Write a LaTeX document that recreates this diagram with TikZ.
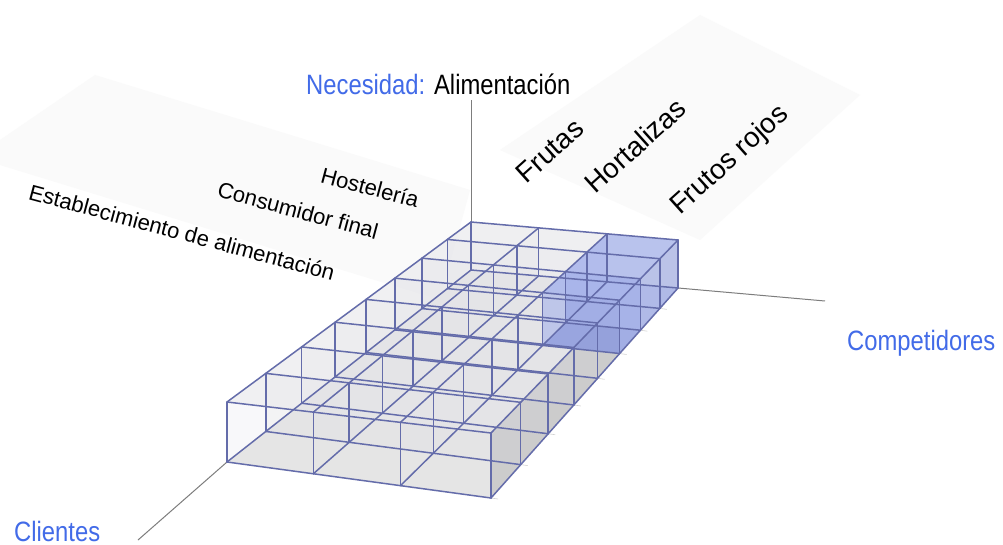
\documentclass[tikz,border=0pt]{standalone}
\usepackage{fontspec}
\setmainfont{Liberation Sans}
\newfontfamily\narrowfont[FakeStretch=0.85]{Liberation Sans}
\usetikzlibrary{calc}
\definecolor{edgec}{RGB}{100,108,170}
\definecolor{axisc}{RGB}{125,125,125}
\definecolor{labblue}{RGB}{66,107,232}
\definecolor{hiblue}{RGB}{172,184,236}
\definecolor{hidark}{RGB}{118,134,214}
\definecolor{boxgray}{RGB}{214,214,220}
\definecolor{panelc}{RGB}{250,250,250}
\begin{document}
\begin{tikzpicture}[x=1pt,y=-1pt,
  edge/.style={draw=edgec,line width=1.5pt,line join=round,line cap=round},
  axisline/.style={draw=axisc,line width=1pt},
  axlabel/.style={font=\narrowfont\fontsize{28}{30}\selectfont,inner sep=0pt},
  catlabel/.style={font=\fontsize{22}{24}\selectfont,inner sep=0pt,anchor=base,rotate=-15},
  prodlabel/.style={font=\fontsize{28}{30}\selectfont,inner sep=0pt,anchor=base,rotate=42}]
\useasboundingbox (0,0) rectangle (1003,545);
\fill[white] (0,0) rectangle (1003,545);
% faint label panels
\fill[panelc] (95,75) -- (470,190) -- (440,300) -- (0,165) -- (0,140) -- cycle;
\fill[panelc] (500,150) -- (700,15) -- (860,95) -- (700,240) -- cycle;
% corners of the block
\coordinate (FLt) at (227,402); \coordinate (FRt) at (491,433);
\coordinate (BLt) at (471,222); \coordinate (BRt) at (678,240);
\coordinate (FLb) at (227,462); \coordinate (FRb) at (491,498);
\coordinate (BLb) at (471,270); \coordinate (BRb) at (678,288);
% grid points
\foreach \j/\t in {0/0,1/0.159,2/0.306,3/0.443,4/0.570,5/0.688,6/0.799,7/0.903,8/1}{
  \coordinate (Lt\j) at ($(FLt)!\t!(BLt)$);
  \coordinate (Rt\j) at ($(FRt)!\t!(BRt)$);
  \coordinate (Lb\j) at ($(FLb)!\t!(BLb)$);
  \coordinate (Rb\j) at ($(FRb)!\t!(BRb)$);
  \foreach \i/\s in {0/0,1/0.327,2/0.657,3/1}{
    \coordinate (T\i-\j) at ($(Lt\j)!\s!(Rt\j)$);
    \coordinate (B\i-\j) at ($(Lb\j)!\s!(Rb\j)$);
  }
}
% axes
\coordinate (ytop) at (471,100);
\coordinate (xend) at (825,301);
\coordinate (zend) at (138,540);
\draw[axisline] (BLb) -- (ytop);
\draw[axisline] (BRb) -- (xend);
\draw[axisline] (FLb) -- (zend);
% ticks
\foreach \j in {0,...,7}{\draw[gray!35,line width=0.6pt] (B3-\j) -- ++(7,1);}
% floor
\fill[gray!28] (B0-0) -- (B3-0) -- (B3-8) -- (B0-8) -- cycle;
% right side face
\fill[gray!60,opacity=0.35] (B3-0) -- (B3-8) -- (T3-8) -- (T3-0) -- cycle;
% interior walls across
\foreach \j in {8,7,...,1}{
  \fill[boxgray,opacity=0.25] (B0-\j) -- (B3-\j) -- (T3-\j) -- (T0-\j) -- cycle;
}
\foreach \i in {0,1,2}{
  \fill[boxgray,opacity=0.2] (B\i-0) -- (B\i-8) -- (T\i-8) -- (T\i-0) -- cycle;
}
% front face and top
\fill[white,opacity=0.3] (B0-0) -- (B3-0) -- (T3-0) -- (T0-0) -- cycle;
\fill[boxgray!45,opacity=0.6] (T0-0) -- (T3-0) -- (T3-8) -- (T0-8) -- cycle;
% highlighted block
\fill[hidark,opacity=0.75] (B2-5) -- (B3-5) -- (B3-6) -- (B2-6) -- cycle;
\fill[hidark,opacity=0.75] (B2-6) -- (B3-6) -- (T3-6) -- (T2-6) -- cycle;
\fill[hiblue,opacity=0.55] (B2-6) -- (B3-6) -- (B3-8) -- (B2-8) -- cycle;
\fill[hiblue,opacity=0.5] (B2-5) -- (B2-8) -- (T2-8) -- (T2-5) -- cycle;
\fill[hiblue,opacity=0.7] (B3-5) -- (B3-8) -- (T3-8) -- (T3-5) -- cycle;
\fill[hiblue,opacity=0.3] (B2-5) -- (B3-5) -- (T3-5) -- (T2-5) -- cycle;
\fill[hiblue,opacity=0.8] (T2-5) -- (T3-5) -- (T3-8) -- (T2-8) -- cycle;
% edges
\foreach \j in {0,...,8}{
  \draw[edge] (T0-\j) -- (T3-\j);
  \draw[edge] (B0-\j) -- (B3-\j);
  \foreach \i in {0,...,3}{\draw[edge] (B\i-\j) -- (T\i-\j);}
}
\foreach \i in {0,...,3}{
  \draw[edge] (T\i-0) -- (T\i-8);
  \draw[edge] (B\i-0) -- (B\i-8);
}
% labels
\node[axlabel,anchor=base west] (need) at (306,95) {\textcolor{labblue}{Necesidad:} Alimentación};
\node[axlabel,anchor=base west,text=labblue] (comp) at (847,350) {Competidores};
\node[axlabel,anchor=base west,text=labblue] (cli) at (14,541) {Clientes};
\node[catlabel] (hos) at (368,195) {Hostelería};
\node[catlabel] (con) at (296,218) {Consumidor final};
\node[catlabel] (est) at (180,240) {Establecimiento de alimentación};
\node[prodlabel] (fru) at (556,158) {Frutas};
\node[prodlabel] (hor) at (642,153) {Hortalizas};
\node[prodlabel] (roj) at (735,166) {Frutos rojos};
\end{tikzpicture}
\end{document}
